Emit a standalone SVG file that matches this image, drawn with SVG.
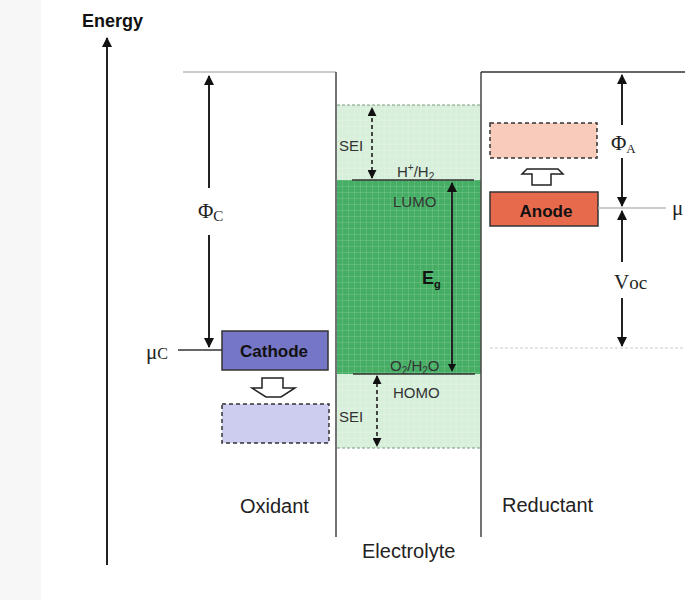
<svg xmlns="http://www.w3.org/2000/svg" width="685" height="600" viewBox="0 0 685 600">
<defs>
<style>
.lbl{font-family:"Liberation Sans",Arial,sans-serif;font-size:20px;fill:#222}
.sm{font-family:"Liberation Sans",Arial,sans-serif;font-size:15px;fill:#333}
.bold{font-family:"Liberation Sans",Arial,sans-serif;font-weight:bold;fill:#111}
.ser{font-family:"Liberation Serif","Times New Roman",serif;font-size:21px;fill:#222}
.ax{stroke:#222;stroke-width:2;fill:none}
.thin{stroke:#bbb;stroke-width:1.5;fill:none}
.wall{stroke:#444;stroke-width:1.5;fill:none}
.dash{stroke:#333;stroke-width:1.8;stroke-dasharray:4 3;fill:none}
</style>
<marker id="ah" viewBox="0 0 10 10" refX="9" refY="5" markerWidth="5" markerHeight="5" orient="auto-start-reverse">
<path d="M0,0 L10,5 L0,10 Z" fill="#111"/>
</marker>
<pattern id="grid" width="6" height="6" patternUnits="userSpaceOnUse">
<path d="M0,0.5 H6 M0.5,0 V6" stroke="#fff" stroke-width="0.6" stroke-opacity="0.2"/>
</pattern>
</defs>
<rect x="0" y="0" width="685" height="600" fill="#fff"/>
<rect x="0" y="0" width="41" height="600" fill="#f7f7f7"/>

<g id="electrolyte">
<rect x="337" y="105" width="144" height="75" fill="#d8efdb"/>
<rect x="337" y="180" width="144" height="194" fill="#45ae64"/>
<rect x="337" y="374" width="144" height="74" fill="#d8efdb"/>
<rect x="337" y="105" width="144" height="343" fill="url(#grid)"/>
<line x1="337" y1="105" x2="481" y2="105" stroke="#7a9a80" stroke-width="1" stroke-dasharray="3 2"/>
<line x1="337" y1="448" x2="481" y2="448" stroke="#7a9a80" stroke-width="1" stroke-dasharray="3 2"/>
<line x1="352" y1="180" x2="474" y2="180" stroke="#333" stroke-width="1.5"/>
<line x1="353" y1="374" x2="475" y2="374" stroke="#333" stroke-width="1.5"/>
<text class="sm" x="339" y="151">SEI</text>
<text class="sm" x="397" y="177">H<tspan font-size="10" dy="-6">+</tspan><tspan dy="6">/H</tspan><tspan font-size="10" dy="3">2</tspan></text>
<text class="sm" x="393" y="207" font-size="16">LUMO</text>
<text class="bold" x="422" y="284" font-size="18">E<tspan font-size="11" dy="4">g</tspan></text>
<text class="sm" x="390" y="371">O<tspan font-size="10" dy="3">2</tspan><tspan dy="-3">/H</tspan><tspan font-size="10" dy="3">2</tspan><tspan dy="-3">O</tspan></text>
<text class="sm" x="393" y="398" font-size="16">HOMO</text>
<text class="sm" x="339" y="422">SEI</text>
</g>

<g id="cathode">
<rect x="222" y="331" width="106" height="39" fill="#7676c6" stroke="#333" stroke-width="1.5"/>
<text class="bold" x="274" y="357" font-size="17" text-anchor="middle">Cathode</text>
</g>
<g id="cathode-ghost">
<rect x="222" y="404" width="107" height="39" fill="#cdcdf0" stroke="#333" stroke-width="1.5" stroke-dasharray="4 3"/>
</g>
<g id="anode">
<rect x="490" y="192" width="108" height="34" fill="#e86a4c" stroke="#333" stroke-width="1.5"/>
<text class="bold" x="546" y="217" font-size="17" text-anchor="middle">Anode</text>
</g>
<g id="anode-ghost">
<rect x="490" y="123" width="107" height="35" fill="#f9cbbb" stroke="#333" stroke-width="1.5" stroke-dasharray="4 3"/>
</g>

<g id="connectors">
<line class="ax" x1="107" y1="565" x2="107" y2="38" marker-end="url(#ah)"/>
<polyline class="thin" points="183,72 336,72"/>
<line class="wall" x1="336" y1="72" x2="336" y2="537"/>
<line class="wall" x1="481" y1="72" x2="481" y2="537"/>
<line x1="481" y1="72" x2="685" y2="72" stroke="#333" stroke-width="1.5"/>
<line class="ax" x1="209" y1="188" x2="209" y2="76" marker-end="url(#ah)"/>
<line class="ax" x1="209" y1="235" x2="209" y2="347" marker-end="url(#ah)"/>
<line x1="178" y1="350" x2="222" y2="350" stroke="#333" stroke-width="1.5"/>
<line class="dash" x1="372" y1="178" x2="372" y2="108" marker-start="url(#ah)" marker-end="url(#ah)"/>
<line class="dash" x1="377" y1="376" x2="377" y2="446" marker-start="url(#ah)" marker-end="url(#ah)"/>
<line class="ax" x1="452" y1="368" x2="452" y2="183" marker-end="url(#ah)"/>
<path d="M448,364 L452,372 L456,364 Z" fill="#111"/>
<line class="ax" x1="622" y1="125" x2="622" y2="75" marker-end="url(#ah)"/>
<line class="ax" x1="622" y1="158" x2="622" y2="206" marker-end="url(#ah)"/>
<line class="ax" x1="622" y1="262" x2="622" y2="211" marker-end="url(#ah)"/>
<line class="ax" x1="622" y1="298" x2="622" y2="346" marker-end="url(#ah)"/>
<line class="thin" x1="598" y1="208" x2="666" y2="208"/>
<line x1="490" y1="348" x2="685" y2="348" stroke="#ccc" stroke-width="1.2" stroke-dasharray="3 2"/>
<polygon points="262,378 283,378 283,388 295,388 281,397 266,397 252,388 262,388" fill="#fff" stroke="#222" stroke-width="1.5"/>
<polygon points="532,185 551,185 551,174 563,174 558,169 527,169 522,174 532,174" fill="#fff" stroke="#222" stroke-width="1.5"/>
</g>

<g id="labels">
<text class="bold" x="82" y="27" font-size="18">Energy</text>
<text class="ser" x="198" y="218">Φ<tspan font-size="15" dy="3">C</tspan></text>
<text class="ser" x="146" y="359">μ<tspan font-size="16" dy="0">C</tspan></text>
<text class="ser" x="611" y="150">Φ<tspan font-size="13" dy="3">A</tspan></text>
<text class="ser" x="672" y="215">μ</text>
<text class="ser" x="614" y="289">V<tspan font-size="19">oc</tspan></text>
<text class="lbl" x="240" y="513">Oxidant</text>
<text class="lbl" x="502" y="512">Reductant</text>
<text class="lbl" x="362" y="558">Electrolyte</text>
</g>
</svg>
